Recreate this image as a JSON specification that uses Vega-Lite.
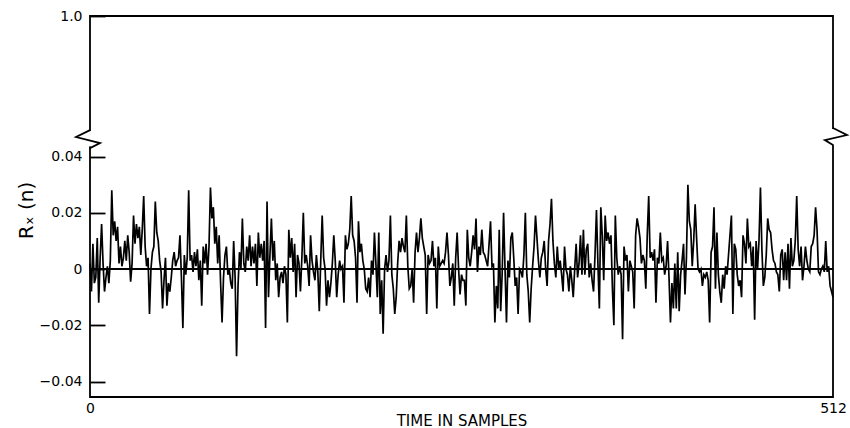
{
  "$schema": "https://vega.github.io/schema/vega-lite/v6.json",
  "autosize": {"type": "none"},
  "padding": {"left": 90, "top": 16, "right": 17, "bottom": 31},
  "width": 743,
  "height": 381,
  "background": "white",
  "config": {
    "view": {"stroke": "#000", "strokeWidth": 1.8},
    "axis": {"labelFont": "DejaVu Sans", "titleFont": "DejaVu Sans", "labelColor": "#000", "titleColor": "#000", "grid": false, "domain": false}
  },
  "datasets": {
    "acf": [
{"n":0,"r":0.002},{"n":1,"r":-0.008},{"n":2,"r":0.009},{"n":3,"r":-0.005},{"n":4,"r":-0.003},{"n":5,"r":0.011},{"n":6,"r":-0.012},{"n":7,"r":0.004},{"n":8,"r":0.016},{"n":9,"r":0.002},
{"n":10,"r":-0.008},{"n":11,"r":-0.003},{"n":12,"r":0.001},{"n":13,"r":-0.005},{"n":14,"r":0.003},{"n":15,"r":0.028},{"n":16,"r":0.012},{"n":17,"r":0.017},{"n":18,"r":0.010},{"n":19,"r":0.015},
{"n":20,"r":0.002},{"n":21,"r":0.008},{"n":22,"r":0.001},{"n":23,"r":0.004},{"n":24,"r":0.010},{"n":25,"r":0.003},{"n":26,"r":0.012},{"n":27,"r":0.006},{"n":28,"r":-0.0045},{"n":29,"r":0.002},
{"n":30,"r":0.019},{"n":31,"r":0.009},{"n":32,"r":0.016},{"n":33,"r":0.011},{"n":34,"r":0.015},{"n":35,"r":0.005},{"n":36,"r":0.014},{"n":37,"r":0.026},{"n":38,"r":0.008},{"n":39,"r":0.001},
{"n":40,"r":0.004},{"n":41,"r":-0.016},{"n":42,"r":0.000},{"n":43,"r":0.006},{"n":44,"r":0.008},{"n":45,"r":0.024},{"n":46,"r":0.013},{"n":47,"r":0.010},{"n":48,"r":0.003},{"n":49,"r":-0.001},
{"n":50,"r":-0.014},{"n":51,"r":-0.004},{"n":52,"r":0.004},{"n":53,"r":-0.013},{"n":54,"r":-0.005},{"n":55,"r":-0.008},{"n":56,"r":-0.003},{"n":57,"r":0.003},{"n":58,"r":0.006},{"n":59,"r":0.001},
{"n":60,"r":0.003},{"n":61,"r":0.004},{"n":62,"r":0.012},{"n":63,"r":-0.003},{"n":64,"r":-0.021},{"n":65,"r":0.005},{"n":66,"r":-0.002},{"n":67,"r":0.004},{"n":68,"r":0.028},{"n":69,"r":0.003},
{"n":70,"r":0.005},{"n":71,"r":-0.001},{"n":72,"r":0.006},{"n":73,"r":0.001},{"n":74,"r":0.007},{"n":75,"r":-0.004},{"n":76,"r":0.003},{"n":77,"r":-0.013},{"n":78,"r":0.008},{"n":79,"r":0.002},
{"n":80,"r":0.009},{"n":81,"r":-0.002},{"n":82,"r":0.008},{"n":83,"r":0.029},{"n":84,"r":0.018},{"n":85,"r":0.022},{"n":86,"r":0.009},{"n":87,"r":0.015},{"n":88,"r":0.002},{"n":89,"r":0.012},
{"n":90,"r":-0.005},{"n":91,"r":-0.019},{"n":92,"r":-0.003},{"n":93,"r":0.005},{"n":94,"r":0.008},{"n":95,"r":-0.002},{"n":96,"r":0.000},{"n":97,"r":-0.005},{"n":98,"r":-0.007},{"n":99,"r":0.010},
{"n":100,"r":-0.003},{"n":101,"r":-0.031},{"n":102,"r":-0.006},{"n":103,"r":0.006},{"n":104,"r":0.000},{"n":105,"r":0.018},{"n":106,"r":0.002},{"n":107,"r":-0.001},{"n":108,"r":0.008},{"n":109,"r":0.003},
{"n":110,"r":0.012},{"n":111,"r":0.001},{"n":112,"r":0.008},{"n":113,"r":0.002},{"n":114,"r":0.009},{"n":115,"r":-0.006},{"n":116,"r":0.013},{"n":117,"r":0.004},{"n":118,"r":0.009},{"n":119,"r":0.003},
{"n":120,"r":0.010},{"n":121,"r":-0.021},{"n":122,"r":0.024},{"n":123,"r":-0.010},{"n":124,"r":0.005},{"n":125,"r":0.018},{"n":126,"r":0.003},{"n":127,"r":0.010},{"n":128,"r":-0.004},{"n":129,"r":0.002},
{"n":130,"r":-0.010},{"n":131,"r":-0.003},{"n":132,"r":-0.001},{"n":133,"r":-0.005},{"n":134,"r":0.001},{"n":135,"r":-0.002},{"n":136,"r":-0.019},{"n":137,"r":0.014},{"n":138,"r":0.004},{"n":139,"r":0.011},
{"n":140,"r":-0.001},{"n":141,"r":0.009},{"n":142,"r":-0.010},{"n":143,"r":0.005},{"n":144,"r":0.002},{"n":145,"r":-0.008},{"n":146,"r":0.004},{"n":147,"r":0.020},{"n":148,"r":0.002},{"n":149,"r":0.005},
{"n":150,"r":0.001},{"n":151,"r":-0.006},{"n":152,"r":0.012},{"n":153,"r":0.003},{"n":154,"r":-0.001},{"n":155,"r":-0.004},{"n":156,"r":0.005},{"n":157,"r":-0.001},{"n":158,"r":-0.015},{"n":159,"r":0.003},
{"n":160,"r":0.019},{"n":161,"r":0.004},{"n":162,"r":0.000},{"n":163,"r":-0.013},{"n":164,"r":-0.004},{"n":165,"r":-0.010},{"n":166,"r":-0.005},{"n":167,"r":0.002},{"n":168,"r":0.012},{"n":169,"r":0.003},
{"n":170,"r":-0.010},{"n":171,"r":-0.002},{"n":172,"r":0.003},{"n":173,"r":0.000},{"n":174,"r":0.001},{"n":175,"r":-0.012},{"n":176,"r":0.012},{"n":177,"r":0.007},{"n":178,"r":0.009},{"n":179,"r":0.014},
{"n":180,"r":0.026},{"n":181,"r":0.012},{"n":182,"r":0.010},{"n":183,"r":0.004},{"n":184,"r":-0.012},{"n":185,"r":0.017},{"n":186,"r":0.006},{"n":187,"r":0.009},{"n":188,"r":0.003},{"n":189,"r":0.000},
{"n":190,"r":-0.007},{"n":191,"r":-0.008},{"n":192,"r":-0.003},{"n":193,"r":-0.010},{"n":194,"r":0.003},{"n":195,"r":-0.002},{"n":196,"r":0.013},{"n":197,"r":0.002},{"n":198,"r":-0.010},{"n":199,"r":0.013},
{"n":200,"r":-0.016},{"n":201,"r":-0.004},{"n":202,"r":-0.023},{"n":203,"r":0.000},{"n":204,"r":0.005},{"n":205,"r":-0.001},{"n":206,"r":0.003},{"n":207,"r":0.019},{"n":208,"r":-0.002},{"n":209,"r":-0.007},
{"n":210,"r":-0.016},{"n":211,"r":-0.010},{"n":212,"r":0.002},{"n":213,"r":0.010},{"n":214,"r":0.006},{"n":215,"r":0.011},{"n":216,"r":0.008},{"n":217,"r":0.006},{"n":218,"r":0.019},{"n":219,"r":0.001},
{"n":220,"r":-0.007},{"n":221,"r":-0.006},{"n":222,"r":0.000},{"n":223,"r":-0.012},{"n":224,"r":0.006},{"n":225,"r":0.013},{"n":226,"r":0.006},{"n":227,"r":0.011},{"n":228,"r":0.018},{"n":229,"r":0.011},
{"n":230,"r":0.008},{"n":231,"r":0.005},{"n":232,"r":-0.016},{"n":233,"r":0.005},{"n":234,"r":0.002},{"n":235,"r":0.003},{"n":236,"r":0.010},{"n":237,"r":0.001},{"n":238,"r":0.004},{"n":239,"r":-0.014},
{"n":240,"r":0.008},{"n":241,"r":0.001},{"n":242,"r":0.002},{"n":243,"r":0.003},{"n":244,"r":0.002},{"n":245,"r":0.006},{"n":246,"r":0.013},{"n":247,"r":0.005},{"n":248,"r":-0.006},{"n":249,"r":-0.003},
{"n":250,"r":0.002},{"n":251,"r":-0.013},{"n":252,"r":0.004},{"n":253,"r":0.013},{"n":254,"r":0.000},{"n":255,"r":-0.009},{"n":256,"r":-0.002},{"n":257,"r":-0.004},{"n":258,"r":-0.004},{"n":259,"r":-0.013},
{"n":260,"r":0.014},{"n":261,"r":0.004},{"n":262,"r":0.001},{"n":263,"r":0.006},{"n":264,"r":0.012},{"n":265,"r":0.007},{"n":266,"r":0.018},{"n":267,"r":-0.001},{"n":268,"r":0.008},{"n":269,"r":0.005},
{"n":270,"r":0.014},{"n":271,"r":0.006},{"n":272,"r":0.005},{"n":273,"r":0.003},{"n":274,"r":0.001},{"n":275,"r":0.009},{"n":276,"r":0.017},{"n":277,"r":0.001},{"n":278,"r":0.002},{"n":279,"r":-0.019},
{"n":280,"r":-0.006},{"n":281,"r":-0.014},{"n":282,"r":0.014},{"n":283,"r":-0.015},{"n":284,"r":-0.002},{"n":285,"r":0.020},{"n":286,"r":0.000},{"n":287,"r":-0.019},{"n":288,"r":0.003},{"n":289,"r":-0.003},
{"n":290,"r":0.011},{"n":291,"r":0.013},{"n":292,"r":0.004},{"n":293,"r":-0.006},{"n":294,"r":-0.003},{"n":295,"r":-0.016},{"n":296,"r":0.000},{"n":297,"r":-0.001},{"n":298,"r":-0.003},{"n":299,"r":0.005},
{"n":300,"r":0.020},{"n":301,"r":-0.002},{"n":302,"r":-0.008},{"n":303,"r":-0.019},{"n":304,"r":-0.007},{"n":305,"r":0.001},{"n":306,"r":0.008},{"n":307,"r":0.019},{"n":308,"r":0.011},{"n":309,"r":0.003},
{"n":310,"r":-0.003},{"n":311,"r":0.004},{"n":312,"r":0.006},{"n":313,"r":0.010},{"n":314,"r":0.000},{"n":315,"r":-0.006},{"n":316,"r":0.010},{"n":317,"r":0.016},{"n":318,"r":0.025},{"n":319,"r":0.010},
{"n":320,"r":0.002},{"n":321,"r":-0.003},{"n":322,"r":0.008},{"n":323,"r":0.000},{"n":324,"r":0.003},{"n":325,"r":-0.002},{"n":326,"r":-0.008},{"n":327,"r":0.008},{"n":328,"r":0.000},{"n":329,"r":-0.002},
{"n":330,"r":-0.008},{"n":331,"r":0.001},{"n":332,"r":-0.004},{"n":333,"r":-0.010},{"n":334,"r":0.000},{"n":335,"r":0.009},{"n":336,"r":-0.003},{"n":337,"r":0.002},{"n":338,"r":0.012},{"n":339,"r":-0.002},
{"n":340,"r":0.014},{"n":341,"r":-0.002},{"n":342,"r":0.007},{"n":343,"r":0.009},{"n":344,"r":-0.003},{"n":345,"r":0.002},{"n":346,"r":-0.004},{"n":347,"r":-0.008},{"n":348,"r":0.005},{"n":349,"r":0.021},
{"n":350,"r":0.002},{"n":351,"r":-0.014},{"n":352,"r":0.022},{"n":353,"r":0.012},{"n":354,"r":-0.004},{"n":355,"r":0.019},{"n":356,"r":0.010},{"n":357,"r":0.013},{"n":358,"r":0.009},{"n":359,"r":0.012},
{"n":360,"r":-0.007},{"n":361,"r":-0.020},{"n":362,"r":0.019},{"n":363,"r":0.004},{"n":364,"r":-0.002},{"n":365,"r":0.001},{"n":366,"r":-0.002},{"n":367,"r":-0.025},{"n":368,"r":0.008},{"n":369,"r":0.003},
{"n":370,"r":0.005},{"n":371,"r":-0.008},{"n":372,"r":0.003},{"n":373,"r":0.001},{"n":374,"r":-0.001},{"n":375,"r":-0.014},{"n":376,"r":0.012},{"n":377,"r":0.018},{"n":378,"r":0.015},{"n":379,"r":0.011},
{"n":380,"r":0.002},{"n":381,"r":0.005},{"n":382,"r":0.003},{"n":383,"r":-0.007},{"n":384,"r":0.012},{"n":385,"r":0.026},{"n":386,"r":0.004},{"n":387,"r":0.006},{"n":388,"r":0.003},{"n":389,"r":0.007},
{"n":390,"r":-0.012},{"n":391,"r":0.004},{"n":392,"r":0.002},{"n":393,"r":0.013},{"n":394,"r":0.003},{"n":395,"r":0.004},{"n":396,"r":-0.002},{"n":397,"r":0.001},{"n":398,"r":0.010},{"n":399,"r":-0.003},
{"n":400,"r":-0.019},{"n":401,"r":-0.005},{"n":402,"r":-0.014},{"n":403,"r":0.002},{"n":404,"r":-0.014},{"n":405,"r":0.006},{"n":406,"r":-0.015},{"n":407,"r":-0.002},{"n":408,"r":0.003},{"n":409,"r":0.009},
{"n":410,"r":-0.009},{"n":411,"r":0.004},{"n":412,"r":0.030},{"n":413,"r":0.017},{"n":414,"r":0.014},{"n":415,"r":0.001},{"n":416,"r":0.010},{"n":417,"r":0.023},{"n":418,"r":0.011},{"n":419,"r":0.000},
{"n":420,"r":-0.001},{"n":421,"r":0.000},{"n":422,"r":-0.006},{"n":423,"r":-0.002},{"n":424,"r":-0.003},{"n":425,"r":-0.001},{"n":426,"r":-0.004},{"n":427,"r":-0.019},{"n":428,"r":0.006},{"n":429,"r":0.008},
{"n":430,"r":0.022},{"n":431,"r":-0.007},{"n":432,"r":0.013},{"n":433,"r":-0.002},{"n":434,"r":-0.008},{"n":435,"r":-0.012},{"n":436,"r":-0.002},{"n":437,"r":-0.007},{"n":438,"r":0.001},{"n":439,"r":-0.002},
{"n":440,"r":0.005},{"n":441,"r":0.012},{"n":442,"r":0.019},{"n":443,"r":-0.016},{"n":444,"r":0.009},{"n":445,"r":0.007},{"n":446,"r":-0.002},{"n":447,"r":-0.006},{"n":448,"r":-0.004},{"n":449,"r":-0.010},
{"n":450,"r":0.012},{"n":451,"r":0.009},{"n":452,"r":0.002},{"n":453,"r":0.018},{"n":454,"r":0.008},{"n":455,"r":0.009},{"n":456,"r":0.001},{"n":457,"r":0.008},{"n":458,"r":-0.018},{"n":459,"r":0.010},
{"n":460,"r":0.000},{"n":461,"r":0.010},{"n":462,"r":0.029},{"n":463,"r":0.007},{"n":464,"r":-0.006},{"n":465,"r":-0.003},{"n":466,"r":0.005},{"n":467,"r":0.018},{"n":468,"r":0.014},{"n":469,"r":0.013},
{"n":470,"r":0.007},{"n":471,"r":0.003},{"n":472,"r":0.002},{"n":473,"r":-0.001},{"n":474,"r":-0.002},{"n":475,"r":-0.008},{"n":476,"r":0.005},{"n":477,"r":0.007},{"n":478,"r":-0.004},{"n":479,"r":0.006},
{"n":480,"r":-0.004},{"n":481,"r":0.009},{"n":482,"r":-0.007},{"n":483,"r":0.011},{"n":484,"r":0.001},{"n":485,"r":0.003},{"n":486,"r":0.010},{"n":487,"r":0.026},{"n":488,"r":0.007},{"n":489,"r":0.001},
{"n":490,"r":0.008},{"n":491,"r":-0.004},{"n":492,"r":0.001},{"n":493,"r":0.008},{"n":494,"r":0.003},{"n":495,"r":0.000},{"n":496,"r":-0.001},{"n":497,"r":0.008},{"n":498,"r":0.009},{"n":499,"r":0.012},
{"n":500,"r":0.022},{"n":501,"r":0.014},{"n":502,"r":-0.001},{"n":503,"r":-0.002},{"n":504,"r":0.000},{"n":505,"r":0.001},{"n":506,"r":-0.001},{"n":507,"r":0.010},{"n":508,"r":-0.001},{"n":509,"r":0.001},
{"n":510,"r":-0.006},{"n":511,"r":-0.008},{"n":512,"r":-0.010}
    ],
    "brk": [
      {"side": "L", "k": 0, "bx": 0, "by": 0.167},
      {"side": "L", "k": 1, "bx": -9.6, "by": 0.116},
      {"side": "L", "k": 2, "bx": 6.9, "by": 0.072},
      {"side": "L", "k": 3, "bx": 0, "by": 0.043},
      {"side": "R", "k": 0, "bx": 512, "by": 0.182},
      {"side": "R", "k": 1, "bx": 521.6, "by": 0.131},
      {"side": "R", "k": 2, "bx": 506.4, "by": 0.094},
      {"side": "R", "k": 3, "bx": 512, "by": 0.058}
    ],
    "mask": [
      {"side": "L", "bx": 0, "by": 0.16},
      {"side": "L", "bx": 0, "by": 0.048},
      {"side": "R", "bx": 512, "by": 0.175},
      {"side": "R", "bx": 512, "by": 0.062}
    ]
  },
  "layer": [
    {
      "data": {"name": "acf"},
      "mark": {"type": "line", "stroke": "#000", "strokeWidth": 1.7, "strokeJoin": "miter", "interpolate": "linear"},
      "encoding": {
        "x": {
          "field": "n", "type": "quantitative",
          "scale": {"domain": [0, 512], "nice": false, "zero": false},
          "axis": {"values": [0, 512], "ticks": false, "labelFlush": false, "labelPadding": 4, "labelFontSize": 14, "title": "TIME IN SAMPLES", "titleFontSize": 15, "titleFontWeight": "normal", "titleBaseline": "alphabetic", "titleY": 28}
        },
        "y": {
          "field": "r", "type": "quantitative",
          "scale": {"domain": [-0.0455, 0.0434, 1.0], "range": [381, 131, 0], "nice": false, "zero": false, "clamp": false},
          "axis": {
            "values": [-0.04, -0.02, 0, 0.02, 0.04, 1],
            "labelExpr": "datum.value == 1 ? '1.0' : datum.value == 0 ? '0' : format(datum.value, '.2f')",
            "tickSize": -15, "tickWidth": 1.8, "tickColor": "#000",
            "labelPadding": 23, "labelFontSize": 14,
            "title": "Rₓ (n)", "titleFontSize": 20, "titleFontWeight": "normal",
            "titleX": -54, "titleY": 194
          }
        }
      }
    },
    {
      "data": {"name": "acf"},
      "mark": {"type": "rule", "stroke": "#000", "strokeWidth": 2},
      "encoding": {"y": {"datum": 0}}
    },
    {
      "data": {"name": "mask"},
      "mark": {"type": "line", "stroke": "white", "strokeWidth": 4, "clip": false},
      "encoding": {
        "x": {"field": "bx", "type": "quantitative"},
        "y": {"field": "by", "type": "quantitative"},
        "detail": {"field": "side"}
      }
    },
    {
      "data": {"name": "brk"},
      "mark": {"type": "line", "stroke": "#000", "strokeWidth": 1.8, "clip": false},
      "encoding": {
        "x": {"field": "bx", "type": "quantitative"},
        "y": {"field": "by", "type": "quantitative"},
        "detail": {"field": "side"},
        "order": {"field": "k"}
      }
    }
  ]
}
